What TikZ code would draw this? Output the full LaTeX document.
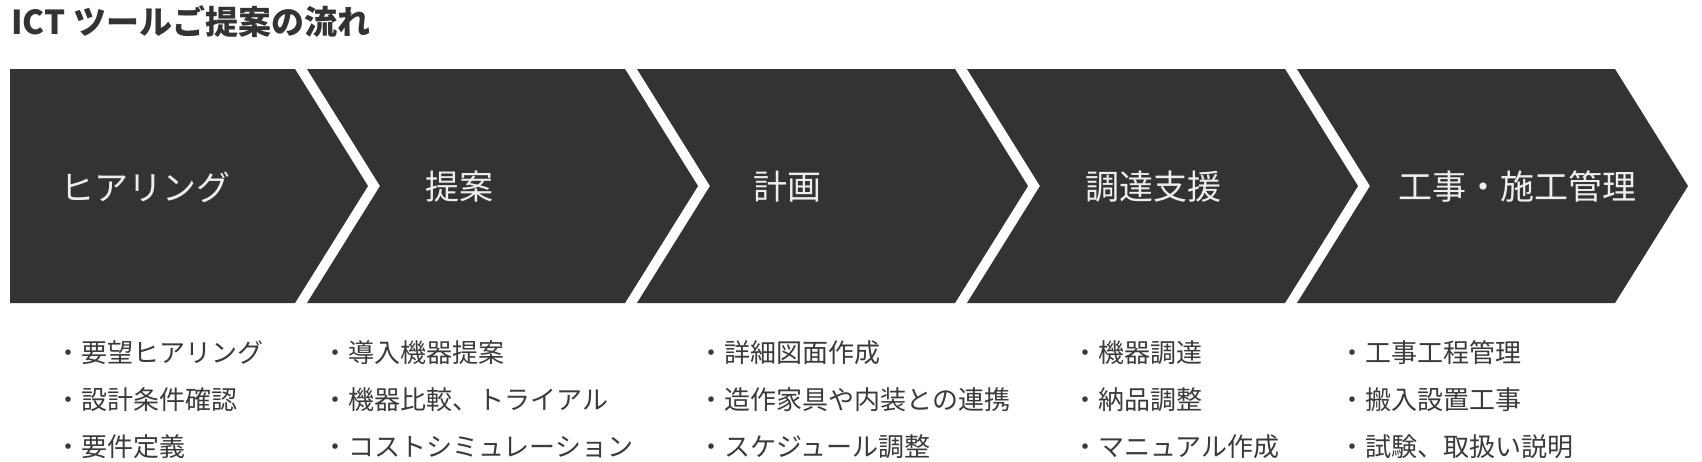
\documentclass[tikz,border=0pt]{standalone}
\usepackage{fontspec}
\setmainfont{Noto Sans CJK JP}
\definecolor{chevfill}{HTML}{333333}
\definecolor{phasetext}{HTML}{EEEEEE}
\definecolor{itemtext}{HTML}{3A3A3A}

\begin{document}
\begin{tikzpicture}[x=0.5pt, y=-0.5pt,
  chevron/.style={fill=chevfill},
  phase/.style={anchor=west, inner sep=0pt, text=phasetext, font=\fontsize{17}{20}\selectfont},
  item/.style={anchor=west, inner sep=0pt, text=itemtext, font=\fontsize{13}{16}\selectfont}]
\useasboundingbox (0, 0) rectangle (1702, 461);

% Title
\node[anchor=west, inner sep=0pt, text=chevfill, font=\fontsize{16.5}{20}\bfseries] (title) at (11, 22) {ICT ツールご提案の流れ};

% Chevrons
\fill[chevron] (10, 69) -- (295, 69) -- (368, 186) -- (295, 303) -- (10, 303) -- cycle;
\fill[chevron] (307, 69) -- (625, 69) -- (698, 186) -- (625, 303) -- (307, 303) -- (380, 186) -- cycle;
\fill[chevron] (637, 69) -- (955, 69) -- (1028, 186) -- (955, 303) -- (637, 303) -- (710, 186) -- cycle;
\fill[chevron] (967, 69) -- (1285, 69) -- (1358, 186) -- (1285, 303) -- (967, 303) -- (1040, 186) -- cycle;
\fill[chevron] (1297, 69) -- (1615, 69) -- (1688, 186) -- (1615, 303) -- (1297, 303) -- (1370, 186) -- cycle;

% Phase labels
\node[phase] (hearing) at (60, 187) {ヒアリング};
\node[phase] (proposal) at (425, 187) {提案};
\node[phase] (plan) at (753, 187) {計画};
\node[phase] (procure) at (1085, 187) {調達支援};
\node[phase] (construct) at (1398, 187) {工事・施工管理};

% Items under each phase
\node[item] (hearing-a) at (55, 353) {・要望ヒアリング};
\node[item] (hearing-b) at (55, 400) {・設計条件確認};
\node[item] (hearing-c) at (55, 447) {・要件定義};

\node[item] (proposal-a) at (322, 353) {・導入機器提案};
\node[item] (proposal-b) at (322, 400) {・機器比較、トライアル};
\node[item] (proposal-c) at (322, 447) {・コストシミュレーション};

\node[item] (plan-a) at (698, 353) {・詳細図面作成};
\node[item] (plan-b) at (698, 400) {・造作家具や内装との連携};
\node[item] (plan-c) at (698, 447) {・スケジュール調整};

\node[item] (procure-a) at (1072, 353) {・機器調達};
\node[item] (procure-b) at (1072, 400) {・納品調整};
\node[item] (procure-c) at (1072, 447) {・マニュアル作成};

\node[item] (construct-a) at (1339, 353) {・工事工程管理};
\node[item] (construct-b) at (1339, 400) {・搬入設置工事};
\node[item] (construct-c) at (1339, 447) {・試験、取扱い説明};

\end{tikzpicture}
\end{document}
